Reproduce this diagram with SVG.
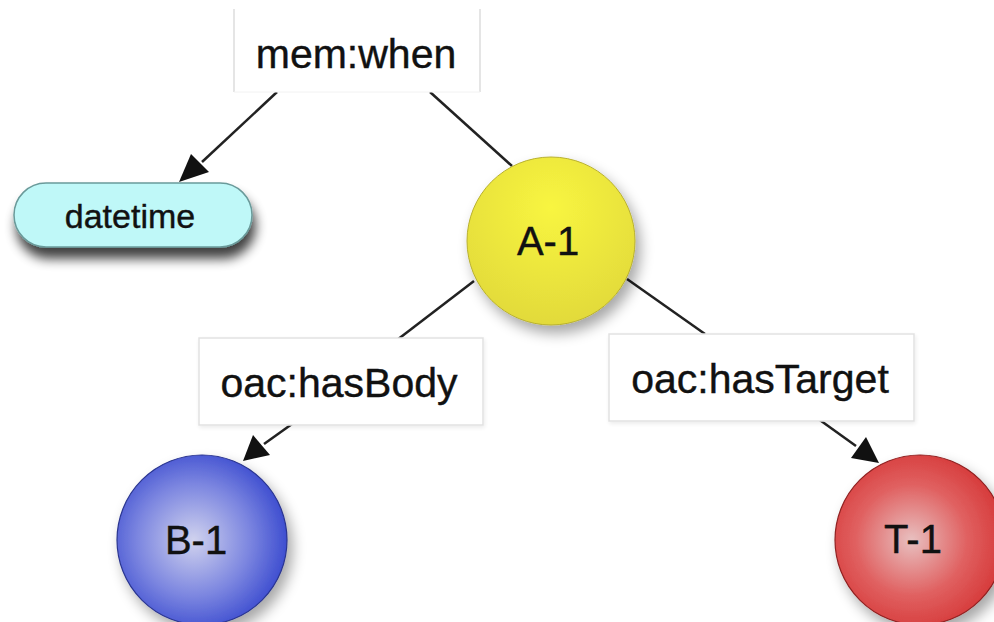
<svg xmlns="http://www.w3.org/2000/svg" width="994" height="622" viewBox="0 0 994 622">
<style>
.lbl{fill:#ffffff;stroke:#e2e2e2;stroke-width:1.5}
.t{font-family:"Liberation Sans",Arial,sans-serif;fill:#111;text-anchor:middle;stroke:#111;stroke-width:0.4}
.edge{stroke:#222;stroke-width:2.5;fill:none}
.head{fill:#111}
</style>
<defs>
<radialGradient id="gA" cx="0.5" cy="0.3" r="0.7">
<stop offset="0" stop-color="#f8f540"/>
<stop offset="1" stop-color="#e2da3a"/>
</radialGradient>
<radialGradient id="gB" cx="0.45" cy="0.5" r="0.55">
<stop offset="0" stop-color="#d0d2ee"/>
<stop offset="0.6" stop-color="#7c86e0"/>
<stop offset="1" stop-color="#3e4ed0"/>
</radialGradient>
<radialGradient id="gT" cx="0.45" cy="0.5" r="0.55">
<stop offset="0" stop-color="#e8c0c0"/>
<stop offset="0.6" stop-color="#e06060"/>
<stop offset="1" stop-color="#d63a3a"/>
</radialGradient>
<filter id="sh" x="-30%" y="-30%" width="170%" height="170%">
<feGaussianBlur in="SourceAlpha" stdDeviation="7"/>
<feOffset dx="5" dy="8" result="b"/>
<feComponentTransfer><feFuncA type="linear" slope="0.35"/></feComponentTransfer>
<feMerge><feMergeNode/><feMergeNode in="SourceGraphic"/></feMerge>
</filter>
<filter id="shd" x="-20%" y="-30%" width="140%" height="190%">
<feGaussianBlur in="SourceAlpha" stdDeviation="6"/>
<feOffset dx="3" dy="11" result="b"/>
<feComponentTransfer><feFuncA type="linear" slope="0.75"/></feComponentTransfer>
<feMerge><feMergeNode/><feMergeNode in="SourceGraphic"/></feMerge>
</filter>
<filter id="shl" x="-10%" y="-20%" width="120%" height="150%">
<feGaussianBlur in="SourceAlpha" stdDeviation="2"/>
<feOffset dx="1" dy="2" result="b"/>
<feComponentTransfer><feFuncA type="linear" slope="0.08"/></feComponentTransfer>
<feMerge><feMergeNode/><feMergeNode in="SourceGraphic"/></feMerge>
</filter>
</defs>

<g id="connectors">
<line class="edge" x1="277" y1="92" x2="202" y2="162"/>
<polygon class="head" points="179,182 191,154 209,172"/>
<line class="edge" x1="430" y1="92" x2="512" y2="166"/>
<line class="edge" x1="474" y1="281" x2="397" y2="340"/>
<line class="edge" x1="292" y1="424" x2="264" y2="444"/>
<polygon class="head" points="243,461 253,435 270,455"/>
<line class="edge" x1="627" y1="279" x2="705" y2="334"/>
<line class="edge" x1="817" y1="418" x2="856" y2="446"/>
<polygon class="head" points="879,463 851,458 866,437"/>
</g>

<g id="label-memwhen">
<rect x="234" y="9" width="246" height="83" fill="#fff"/>
<line x1="234" y1="9" x2="234" y2="92" stroke="#ddd" stroke-width="1.5"/>
<line x1="480" y1="9" x2="480" y2="92" stroke="#ddd" stroke-width="1.5"/>
<line x1="234" y1="92" x2="480" y2="92" stroke="#f2f2f2" stroke-width="1"/>
<text class="t" x="356" y="68" font-size="41">mem:when</text>
</g>

<g id="node-datetime">
<rect x="14" y="183" width="238" height="64" rx="32" fill="#bff8f8" stroke="#6a9a9a" stroke-width="1.5" filter="url(#shd)"/>
<text class="t" x="130" y="228" font-size="34">datetime</text>
</g>

<g id="node-A1">
<circle cx="551" cy="241" r="84" fill="url(#gA)" stroke="#b8b030" stroke-width="1" filter="url(#sh)"/>
<text class="t" x="548" y="255" font-size="40">A-1</text>
</g>

<g id="label-hasBody">
<rect class="lbl" x="199" y="338" width="284" height="87" filter="url(#shl)"/>
<text class="t" x="339" y="397" font-size="41">oac:hasBody</text>
</g>

<g id="label-hasTarget">
<rect class="lbl" x="609" y="334" width="305" height="87" filter="url(#shl)"/>
<text class="t" x="760" y="393" font-size="41">oac:hasTarget</text>
</g>

<g id="node-B1">
<circle cx="202" cy="540" r="85" fill="url(#gB)" stroke="#2a3590" stroke-width="1.2" filter="url(#sh)"/>
<text class="t" x="196" y="554" font-size="40">B-1</text>
</g>

<g id="node-T1">
<circle cx="920" cy="540" r="85" fill="url(#gT)" stroke="#902020" stroke-width="1.2" filter="url(#sh)"/>
<text class="t" x="913" y="553" font-size="40">T-1</text>
</g>
</svg>
